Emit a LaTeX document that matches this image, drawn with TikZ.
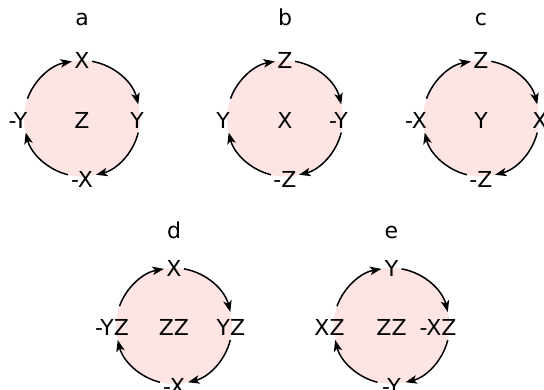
\documentclass[tikz,border=0pt]{standalone}
\usepackage{fontspec}
\setmainfont{DejaVu Sans}
\usetikzlibrary{arrows.meta,calc}
\definecolor{pinkfill}{RGB}{255,228,228}
\begin{document}
\begin{tikzpicture}[x=1pt,y=1pt,
  lbl/.style={font=\fontsize{22}{26}\selectfont, inner sep=0pt},
  ttl/.style={font=\fontsize{22}{26}\selectfont, inner sep=0pt, anchor=base},
  arr/.style={line width=1.5pt, -{Stealth[length=11.5pt,width=8.5pt,inset=3pt]}},
  disc/.style={fill=pinkfill}]
\useasboundingbox (0,0) rectangle (544,390);
\foreach \n/\cx/\cy/\lab/\hy/\t/\r/\rx/\b/\l/\lx/\m in {
  a/82/271.5/a/364/X/Y/55/-X/-Y/-64/Z,
  b/285/271.5/b/364/Z/-Y/53.5/-Z/Y/-62/X,
  c/481/271.5/c/364/Z/X/59/-Z/-X/-65/Y,
  d/174/64/d/151/X/YZ/57/-X/-YZ/-62/ZZ,
  e/391.5/64/e/151/Y/-XZ/46.5/-Y/XZ/-62/ZZ} {
  \fill[disc] (\cx,\cy) circle[radius=58];
  \node[lbl] (\n c) at (\cx,\cy-1.5) {\m};
  \node[lbl] (\n t) at (\cx,\cy+58) {\t};
  \node[lbl] (\n r) at (\cx+\rx,\cy-1.5) {\r};
  \node[lbl] (\n b) at (\cx,\cy-60.5) {\b};
  \node[lbl] (\n l) at (\cx+\lx,\cy-1.5) {\l};
  \node[ttl] (\n h) at (\cx,\hy) {\lab};
  \draw[arr] ($(\n c)+(0,1.5)+(160:58)$) arc[start angle=160,end angle=100,radius=58];
  \draw[arr] ($(\n c)+(0,1.5)+(80:58)$) arc[start angle=80,end angle=14,radius=58];
  \draw[arr] ($(\n c)+(0,1.5)+(-14:58)$) arc[start angle=-14,end angle=-76,radius=58];
  \draw[arr] ($(\n c)+(0,1.5)+(-104:58)$) arc[start angle=-104,end angle=-166,radius=58];
}
\end{tikzpicture}
\end{document}
